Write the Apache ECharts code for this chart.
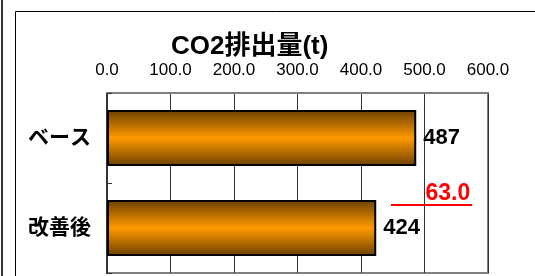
<!DOCTYPE html>
<html>
<head>
<meta charset="utf-8">
<script src="https://cdn.jsdelivr.net/npm/echarts@6/dist/echarts.min.js"></script>
<style>
html, body { margin: 0; padding: 0; background: #fff; }
#main { width: 535px; height: 276px; }
</style>
</head>
<body>
<div id="main"></div>
<script>
var categories = ['ベース', '改善後'];
var values = [487, 424];
var axisMin = 0;
var axisMax = 600;
var axisStep = 100;
var titleText = 'CO2排出量(t)';

var font = '"Liberation Sans", "Noto Sans CJK JP", sans-serif';

var chart = echarts.init(document.getElementById('main'));
var frame = [
	{ type: 'line', shape: { x1: 2, y1: 0, x2: 2, y2: 276 }, style: { stroke: '#333', lineWidth: 2 } },
	{ type: 'rect', shape: { x: 15.5, y: 11.5, width: 600, height: 300 }, style: { fill: null, stroke: '#000', lineWidth: 1 } }
];
var option = {
	backgroundColor: '#fff',
	animation: false,
	textStyle: { fontFamily: font },
	title: {
		text: titleText,
		left: 166,
		top: 29,
		textStyle: { fontSize: 26, fontWeight: 'bold', color: '#000', fontFamily: font }
	},
	grid: {
		left: 107,
		top: 93,
		width: 381,
		height: 180,
		show: true,
		borderColor: '#808080',
		borderWidth: 2
	},
	xAxis: {
		type: 'value',
		position: 'top',
		min: axisMin,
		max: axisMax,
		interval: axisStep,
		axisLine: { show: true, lineStyle: { color: '#808080', width: 2 } },
		axisTick: { show: false },
		axisLabel: {
			margin: 14,
			fontSize: 17,
			color: '#000',
			formatter: function (v) { return v.toFixed(1); }
		},
		splitLine: { show: true, lineStyle: { color: '#333', width: 1 } }
	},
	yAxis: {
		type: 'category',
		inverse: true,
		data: categories,
		axisLine: { show: true, lineStyle: { color: '#333', width: 2 } },
		axisTick: { show: true, inside: true, length: 5, lineStyle: { color: '#333' } },
		axisLabel: { margin: 16, fontSize: 21, fontWeight: 'bold', color: '#000' }
	},
	series: [{
		type: 'bar',
		data: values,
		barWidth: 56,
		itemStyle: {
			borderColor: '#000',
			borderWidth: 2,
			color: new echarts.graphic.LinearGradient(0, 0, 0, 1, [
				{ offset: 0, color: '#6b4000' },
				{ offset: 0.5, color: '#ff9900' },
				{ offset: 1, color: '#6b4000' }
			])
		},
		label: {
			show: true,
			position: 'right',
			distance: 7,
			fontSize: 22,
			fontWeight: 'bold',
			color: '#000'
		}
	}],
	graphic: frame
};
chart.setOption(option);

// difference annotation between the two bars
var diff = (values[0] - values[1]).toFixed(1);
var p0 = chart.convertToPixel({ xAxisIndex: 0, yAxisIndex: 0 }, [500, 0]);
var p1 = chart.convertToPixel({ xAxisIndex: 0, yAxisIndex: 0 }, [500, 1]);
var l0 = chart.convertToPixel({ xAxisIndex: 0 }, 447);
var l1 = chart.convertToPixel({ xAxisIndex: 0 }, 575);
var midY = (p0[1] + p1[1]) / 2;
chart.setOption({
	graphic: frame.concat([
		{ type: 'text', x: p0[0] + 1, y: midY + 11, style: { text: diff, fill: '#ff0000', fontSize: 23, fontWeight: 'bold', fontFamily: font, textVerticalAlign: 'middle' } },
		{ type: 'line', shape: { x1: l0, y1: midY + 22, x2: l1, y2: midY + 22 }, style: { stroke: '#ff0000', lineWidth: 2 } }
	])
});
</script>
</body>
</html>
